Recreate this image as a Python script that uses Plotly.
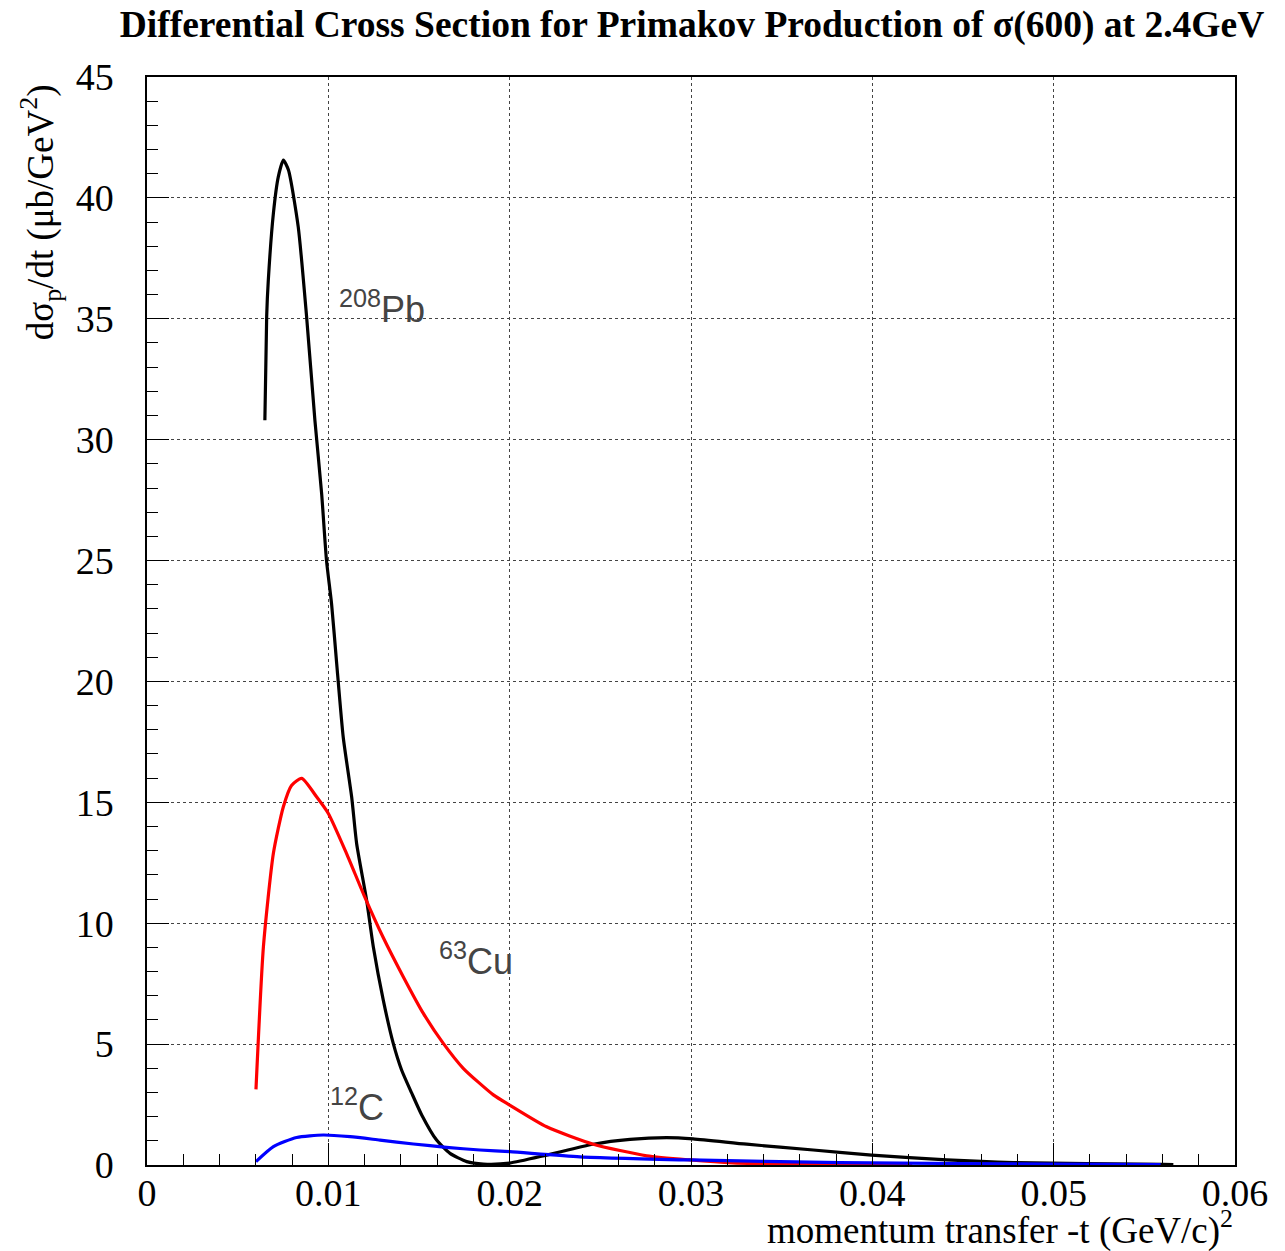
import plotly.graph_objects as go

# momentum transfer -t (GeV/c)^2 and dsigma/dt (mub/GeV^2) for each target
t_pb = [0.0065, 0.0066, 0.00669, 0.00697, 0.00724, 0.00752, 0.0078, 0.00834, 0.0088,
        0.00926, 0.00963, 0.0099, 0.01018, 0.01046, 0.01082, 0.01129, 0.01156, 0.01211,
        0.01248, 0.01303, 0.01358, 0.01404, 0.0146, 0.01515, 0.01597, 0.01671, 0.01763,
        0.01855, 0.0200, 0.02204, 0.0246, 0.02664, 0.02866, 0.03012, 0.03307, 0.03674,
        0.03996, 0.0441, 0.04778, 0.05605, 0.0566]
y_pb = [30.8, 35.1, 36.6, 39.36, 40.87, 41.56, 41.15, 38.8, 35.1,
        30.8, 27.78, 25.0, 23.2, 20.75, 17.7, 15.2, 13.3, 10.96,
        9.03, 6.82, 5.03, 3.93, 2.97, 2.07, 1.03, 0.48, 0.14,
        0.04, 0.08, 0.41, 0.86, 1.06, 1.13, 1.08, 0.86, 0.62,
        0.41, 0.21, 0.1, 0.03, 0.02]

t_cu = [0.00601, 0.00642, 0.00697, 0.00752, 0.00797, 0.00853, 0.00935, 0.0100, 0.0110,
        0.0120, 0.0130, 0.01413, 0.01524, 0.01634, 0.01744, 0.0191, 0.0200, 0.02204,
        0.02461, 0.02756, 0.02994, 0.0323, 0.036, 0.0422]
y_cu = [3.13, 9.03, 12.89, 14.82, 15.7, 15.99, 15.23, 14.54, 12.89,
        11.1, 9.45, 7.79, 6.27, 5.03, 4.0, 2.9, 2.48, 1.58,
        0.86, 0.38, 0.21, 0.09, 0.04, 0.02]

t_c = [0.00601, 0.00697, 0.00825, 0.00972, 0.0112, 0.01285, 0.01469, 0.01652, 0.01836,
       0.0200, 0.02388, 0.02994, 0.0382, 0.045, 0.050, 0.0559]
y_c = [0.14, 0.76, 1.14, 1.24, 1.17, 1.03, 0.87, 0.73, 0.62,
       0.55, 0.34, 0.21, 0.1, 0.06, 0.04, 0.02]

x_ticks = [0, 0.01, 0.02, 0.03, 0.04, 0.05, 0.06]
x_tick_text = ["0", "0.01", "0.02", "0.03", "0.04", "0.05", "0.06"]
y_ticks = [0, 5, 10, 15, 20, 25, 30, 35, 40, 45]
y_tick_text = [str(v) for v in y_ticks]

series = [
    ("Pb", t_pb, y_pb, "black"),
    ("Cu", t_cu, y_cu, "#ff0000"),
    ("C", t_c, y_c, "#0000ff"),
]

fig = go.Figure()
for name, tx, ty, col in series:
    fig.add_trace(go.Scatter(x=tx, y=ty, mode="lines", name=name,
                             line=dict(color=col, width=3.2, shape="spline", smoothing=0.6),
                             showlegend=False))

axis_common = dict(
    showline=True, linecolor="black", linewidth=1.5, mirror=True,
    showgrid=True, gridcolor="#444", griddash="dot", gridwidth=1,
    ticks="inside", tickcolor="black", tickwidth=1, ticklen=22,
    zeroline=False,
    tickfont=dict(family="Liberation Serif", size=38, color="black"),
)

fig.update_xaxes(range=[0, 0.06], tickvals=x_ticks, ticktext=x_tick_text,
                 minor=dict(dtick=0.002, tick0=0, ticks="inside", ticklen=11,
                            tickcolor="black", showgrid=False),
                 ticklabelstandoff=-6, **axis_common)
fig.update_yaxes(range=[0, 45], tickvals=y_ticks, ticktext=y_tick_text,
                 minor=dict(dtick=1, tick0=0, ticks="inside", ticklen=11,
                            tickcolor="black", showgrid=False),
                 ticklabelstandoff=24, **axis_common)

label_font = dict(family="Liberation Sans", size=36, color="#444")
fig.add_annotation(x=0.0105, y=35.5, text="<sup>208</sup>Pb", showarrow=False,
                   xanchor="left", yanchor="middle", font=label_font)
fig.add_annotation(x=0.0160, y=8.5, text="<sup>63</sup>Cu", showarrow=False,
                   xanchor="left", yanchor="middle", font=label_font)
fig.add_annotation(x=0.0100, y=2.5, text="<sup>12</sup>C", showarrow=False,
                   xanchor="left", yanchor="middle", font=label_font)

fig.add_annotation(xref="paper", yref="paper", x=-0.098, y=0.876,
                   text="dσ<sub>p</sub>/dt (μb/GeV<sup>2</sup>)", textangle=-90,
                   showarrow=False, xanchor="center", yanchor="middle",
                   font=dict(family="Liberation Serif", size=37, color="black"))
fig.add_annotation(xref="paper", yref="paper", x=1.0, y=-0.058,
                   text="momentum transfer -t (GeV/c)<sup>2</sup>",
                   showarrow=False, xanchor="right", yanchor="middle",
                   font=dict(family="Liberation Serif", size=37, color="black"))

fig.update_layout(
    width=1285, height=1251,
    margin=dict(l=147, r=50, t=77, b=86),
    paper_bgcolor="white", plot_bgcolor="white",
    title=dict(text="<b>Differential Cross Section for Primakov Production of σ(600) at 2.4GeV</b>",
               x=0.5385, xanchor="center", y=1 - 24 / 1251, yanchor="middle",
               font=dict(family="Liberation Serif", size=37.5, color="black")),
)

fig.write_html("out.html")
